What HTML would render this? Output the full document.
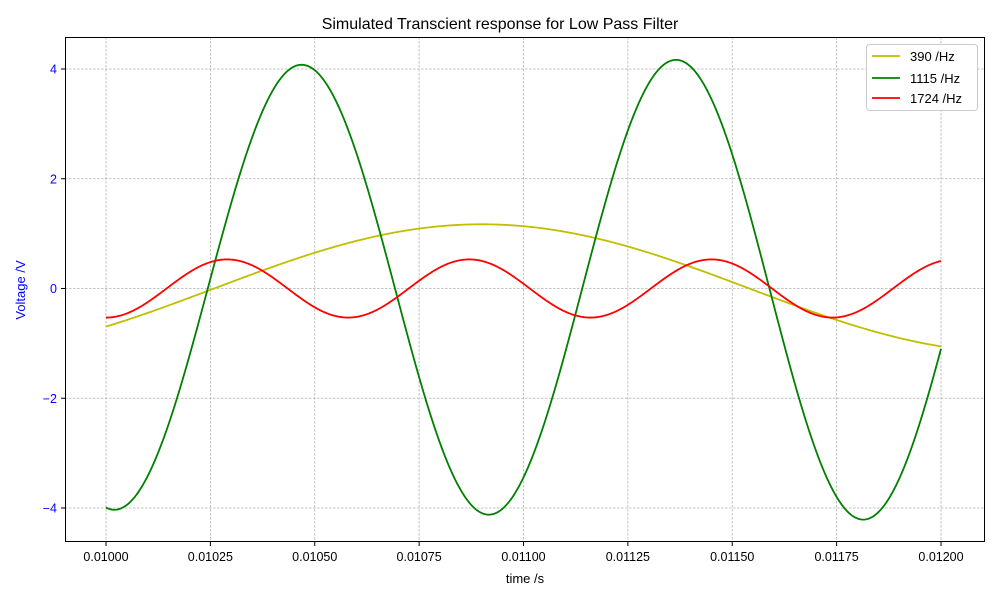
<!DOCTYPE html>
<html><head><meta charset="utf-8"><style>
body{margin:0;background:#fff;}
svg text{font-family:"Liberation Sans","DejaVu Sans",sans-serif;}
</style></head><body>
<svg id="s" width="1000" height="600" xmlns="http://www.w3.org/2000/svg">
<rect width="1000" height="600" fill="#fff"/>
<g id="grid" stroke="#b0b0b0" stroke-width="0.8" stroke-dasharray="2.5,1.5"></g>
<g id="lines" fill="none" stroke-width="1.8" stroke-linejoin="round"></g>
<rect x="65.5" y="37.5" width="919" height="504" fill="none" stroke="#000" stroke-width="1"/>
<g id="ticks" font-size="12.5"></g>
<text x="500" y="29" font-size="16" text-anchor="middle">Simulated Transcient response for Low Pass Filter</text>
<text x="525" y="583" font-size="13" text-anchor="middle">time /s</text>
<text transform="translate(25,290) rotate(-90)" font-size="13" text-anchor="middle" fill="#0000ff">Voltage /V</text>
<g font-size="13">
<rect x="866.5" y="44.5" width="111" height="66" rx="3" fill="#fff" stroke="#ccc"/>
<line x1="872" y1="56" x2="900" y2="56" stroke="#bfbf00" stroke-width="1.8"/>
<text x="910" y="61">390 /Hz</text>
<line x1="872" y1="78" x2="900" y2="78" stroke="#008000" stroke-width="1.8"/>
<text x="910" y="83">1115 /Hz</text>
<line x1="872" y1="98" x2="900" y2="98" stroke="#ff0000" stroke-width="1.8"/>
<text x="910" y="103">1724 /Hz</text>
</g>
</svg>
<script>
var X=function(t){return 106+(t-0.01)/0.00025*104.375;};
var Y=function(v){return 288.5-v*54.875;};
var g=document.getElementById('grid'),tk=document.getElementById('ticks'),L=document.getElementById('lines');
var NS='http://www.w3.org/2000/svg';
function el(p,n,a,txt){var e=document.createElementNS(NS,n);for(var k in a)e.setAttribute(k,a[k]);if(txt!=null)e.textContent=txt;p.appendChild(e);}
for(var i=0;i<=8;i++){var t=0.01+i*0.00025,x=X(t);
el(g,'line',{x1:x,y1:37,x2:x,y2:542});
el(tk,'line',{x1:x,y1:542,x2:x,y2:546,stroke:'#000'});
el(tk,'text',{x:x,y:561,'text-anchor':'middle'},t.toFixed(5));}
for(var v=-4;v<=4;v+=2){var y=Y(v);
el(g,'line',{x1:65,y1:y,x2:985,y2:y});
el(tk,'line',{x1:61,y1:y,x2:65,y2:y,stroke:'#000'});
el(tk,'text',{x:57,y:y+4.5,'text-anchor':'end',fill:'#0000ff'},(v<0?'\u2212'+(-v):''+v));}
function path(f,c){var d='';for(var i=0;i<=800;i++){var t=0.01+i*0.002/800;d+=(i?'L':'M')+X(t).toFixed(2)+','+Y(f(t)).toFixed(2);}el(L,'path',{d:d,stroke:c});}
var P=2*Math.PI;
path(function(t){return 1.17*Math.cos(P*390*(t-0.01090));},'#bfbf00');
path(function(t){var A=4.03+0.1*(t-0.01)/0.001;return A*Math.cos(P*1115*(t-0.010468));},'#008000');
path(function(t){return 0.53*Math.cos(P*1724*(t-0.01029));},'#ff0000');
</script>
</body></html>
